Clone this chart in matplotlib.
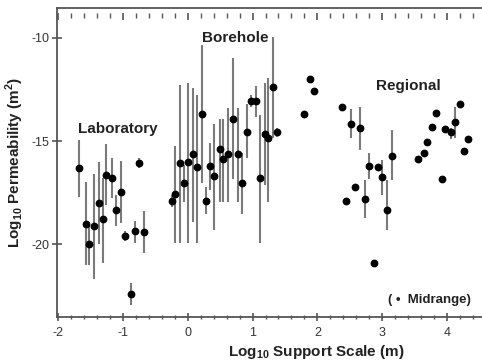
import numpy as np
import matplotlib
matplotlib.use("Agg")
import matplotlib.pyplot as plt
from matplotlib.ticker import MultipleLocator

plt.rcParams['font.family'] = ['Liberation Sans', 'DejaVu Sans']
plt.rcParams['mathtext.fontset'] = 'custom'
plt.rcParams['mathtext.rm'] = 'Liberation Sans'
plt.rcParams['mathtext.bf'] = 'Liberation Sans:bold'

nan = np.nan

# laboratory: x, midrange, low end, high end
lab_x = [-1.677, -1.569, -1.523, -1.451, -1.373, -1.312, -1.261, -1.168,
         -1.106, -1.029, -0.963, -0.880, -0.818, -0.747, -0.674]
lab_y = [-16.29, -19.00, -20.00, -19.11, -18.02, -18.78, -16.65, -16.78,
         -18.36, -17.45, -19.58, -22.42, -19.36, -16.05, -19.39]
lab_lo = [-17.70, -21.00, -21.00, -21.68, -20.00, -20.92, -18.10, -17.74,
          -19.11, -18.98, -19.84, -22.94, -19.95, -16.29, -20.44]
lab_hi = [-14.95, -16.97, -18.92, -16.61, -16.03, -16.81, -15.16, -15.81,
          -17.61, -15.97, -19.36, -21.89, -18.87, -15.82, -18.39]

# borehole
bore_x = [-0.238, -0.191, -0.119, -0.052, 0.009, 0.086, 0.148, 0.221, 0.282,
          0.349, 0.410, 0.498, 0.540, 0.617, 0.704, 0.772, 0.843, 0.910,
          0.977, 1.049, 1.120, 1.188, 1.235, 1.316, 1.378]
bore_y = [-17.90, -17.58, -16.08, -17.02, -16.02, -15.64, -16.27, -13.71, -17.89,
          -16.20, -16.69, -15.39, -15.89, -15.63, -13.94, -15.61, -17.02, -14.55,
          -13.05, -13.05, -16.78, -14.68, -14.87, -12.37, -14.58]
bore_lo = [-18.20, -19.92, -19.92, -17.94, -19.92, -18.91, -19.92, -17.05, -18.53,
           -17.37, -19.31, -17.94, -17.94, -17.94, -16.85, -17.94, -18.53, -15.82,
           -13.35, -13.82, -19.92, -17.13, -17.94, -14.87, -14.79]
bore_hi = [-17.60, -15.24, -12.29, -16.16, -12.18, -12.45, -12.77, -10.35, -17.21,
           -15.11, -14.19, -13.94, -13.94, -13.40, -10.97, -13.40, -15.58, -13.21,
           -12.77, -12.32, -13.74, -12.18, -11.94, -9.98, -14.37]

# regional
reg_x = [1.799, 1.887, 1.954, 2.386, 2.443, 2.517, 2.582, 2.654, 2.730, 2.798,
         2.875, 2.937, 3.003, 3.076, 3.158, 3.559, 3.642, 3.688, 3.765, 3.836,
         3.924, 3.971, 4.068, 4.130, 4.202, 4.259, 4.326]
reg_y = [-13.71, -12.01, -12.58, -13.34, -17.90, -14.18, -17.21, -14.39, -17.81,
         -16.20, -20.92, -16.27, -16.73, -18.34, -15.71, -15.86, -15.57, -15.05,
         -14.34, -13.63, -16.84, -14.43, -14.56, -14.09, -13.22, -15.48, -14.92]
reg_lo = [nan, nan, nan, nan, nan, -14.87, nan, -15.44, -18.74, -16.85,
          nan, nan, -17.61, -19.31, -16.89, nan, nan, nan, nan, nan,
          nan, nan, -14.92, -14.87, nan, nan, nan]
reg_hi = [nan, nan, nan, nan, nan, -13.47, nan, -13.34, -16.89, -15.60,
          nan, nan, -15.92, -16.89, -14.47, nan, nan, nan, nan, nan,
          nan, nan, -14.39, -13.34, nan, nan, nan]

AXC = '#555555'
BARC = '#7a7a7a'
TXT = '#222222'

fig = plt.figure(figsize=(4.82, 3.63), dpi=100)
ax = fig.add_axes([57 / 482, 46 / 363, 425 / 482, 309 / 363])

for xs, ys, lo, hi in [(lab_x, lab_y, lab_lo, lab_hi),
                       (bore_x, bore_y, bore_lo, bore_hi),
                       (reg_x, reg_y, reg_lo, reg_hi)]:
    ax.vlines(xs, lo, hi, color=BARC, lw=1.5, zorder=2)
    ax.plot(xs, ys, 'o', color='black', ms=4.6, zorder=3)

ax.set_xlim(-2.017, 4.54)
ax.set_ylim(-23.52, -8.56)

for s in ['left', 'bottom', 'top']:
    ax.spines[s].set_color(AXC)
    ax.spines[s].set_linewidth(1.3)
ax.spines['right'].set_visible(False)

ax.xaxis.set_major_locator(MultipleLocator(1))
ax.xaxis.set_minor_locator(MultipleLocator(0.2))
ax.set_yticks([-10, -15, -20])
ax.tick_params(axis='x', which='major', direction='inout', length=6, width=1.2,
               color=AXC, labelsize=9, labelcolor='#333333', pad=4)
ax.tick_params(axis='x', which='minor', direction='inout', length=3.5, width=1.0,
               color=AXC)
ax.tick_params(axis='y', which='major', direction='inout', length=7, width=1.2,
               color=AXC, labelsize=9, labelcolor='#333333', pad=2)
ax.xaxis.set_major_formatter(plt.FuncFormatter(lambda v, p: f'{v:.0f}'))
ax.yaxis.set_major_formatter(plt.FuncFormatter(lambda v, p: f'{v:.0f}'))

# floating ticks under the top frame
sec = ax.secondary_xaxis(0.984)
for s in sec.spines.values():
    s.set_visible(False)
sec.xaxis.set_major_locator(MultipleLocator(1))
sec.xaxis.set_minor_locator(MultipleLocator(0.2))
sec.tick_params(axis='x', which='major', direction='in', length=5, width=1.2,
                color=AXC, labeltop=False, labelbottom=False)
sec.tick_params(axis='x', which='minor', direction='in', length=3.5, width=1.0,
                color=AXC)

ax.set_ylabel(r'Log$_{\mathbf{10}}$ Permeability (m$^{\mathbf{2}}$)',
              fontsize=11, fontweight='bold', color=TXT, labelpad=4)
ax.set_xlabel(r'Log$_{\mathbf{10}}$ Support Scale (m)',
              fontsize=11, fontweight='bold', color=TXT)
ax.xaxis.label.set_va('center')
ax.xaxis.set_label_coords(0.61, -0.113)

ax.text(-1.076, -14.42, 'Laboratory', ha='center', va='center',
        fontsize=11, fontweight='bold', color=TXT)
ax.text(0.73, -9.99, 'Borehole', ha='center', va='center',
        fontsize=11, fontweight='bold', color=TXT)
ax.text(3.41, -12.34, 'Regional', ha='center', va='center',
        fontsize=11, fontweight='bold', color=TXT)
ax.text(3.73, -22.70, '( \u2022  Midrange)', ha='center', va='center',
        fontsize=9.5, fontweight='bold', color=TXT)

fig.savefig('out.png', dpi=100, facecolor='white')
